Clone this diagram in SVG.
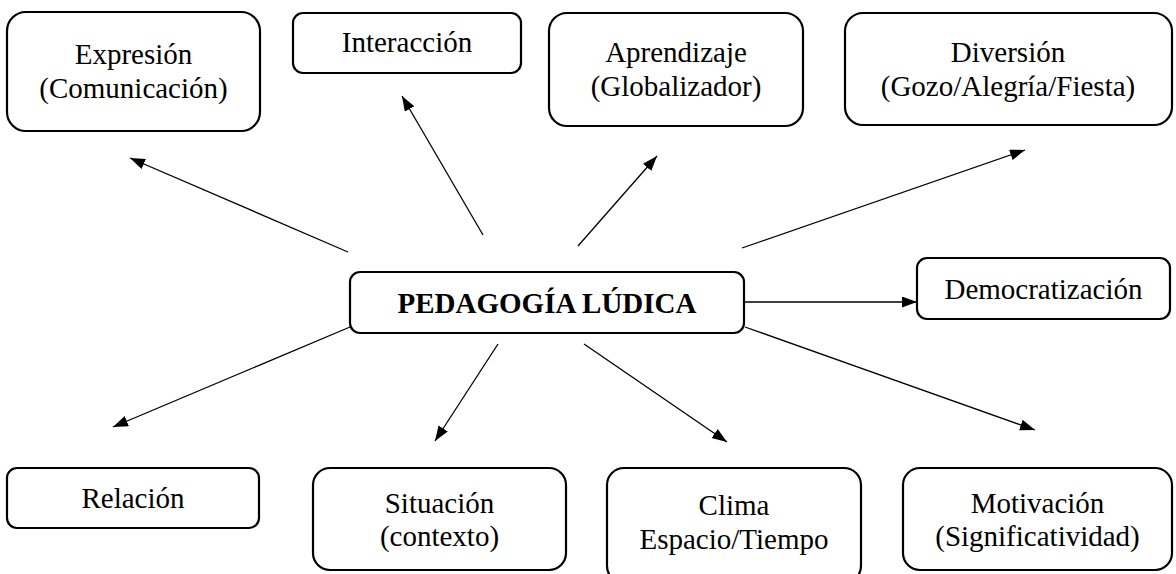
<svg xmlns="http://www.w3.org/2000/svg" width="1176" height="574" viewBox="0 0 1176 574">
<style>
.box{fill:#fff;stroke:#000;stroke-width:2.2}
text{font-family:'Liberation Serif','Times New Roman',Tinos,'DejaVu Serif',serif;font-size:29px;fill:#000;text-anchor:middle}
.b{font-weight:bold}
.c{stroke:#000;stroke-width:1.3;fill:none;marker-end:url(#ah)}
</style>
<defs>
<marker id="ah" markerUnits="userSpaceOnUse" markerWidth="16" markerHeight="12" refX="15" refY="5.5" orient="auto">
<path d="M0,0 L15,5.5 L0,11 z" fill="#000"/>
</marker>
</defs>
<rect width="1176" height="574" fill="#fff"/>
<g id="connectors">
<line class="c" x1="348" y1="252" x2="130" y2="158"/>
<line class="c" x1="483" y1="235" x2="402" y2="96"/>
<line class="c" x1="578" y1="246" x2="657" y2="156"/>
<line class="c" x1="742" y1="248" x2="1025" y2="150"/>
<line class="c" x1="744" y1="302" x2="917" y2="302"/>
<line class="c" x1="745" y1="327" x2="1035" y2="430"/>
<line class="c" x1="584" y1="344" x2="727" y2="442"/>
<line class="c" x1="498" y1="344" x2="435" y2="441"/>
<line class="c" x1="350" y1="327" x2="113" y2="427"/>
</g>
<g id="expresion">
<rect class="box" x="7" y="12" width="253" height="119" rx="19"/>
<text x="133.5" y="64" font-family="Liberation Serif, Times New Roman, serif">Expresión</text>
<text x="133.5" y="98" font-family="Liberation Serif, Times New Roman, serif">(Comunicación)</text>
</g>
<g id="interaccion">
<rect class="box" x="293" y="13" width="228" height="60" rx="10"/>
<text x="407" y="52" font-family="Liberation Serif, Times New Roman, serif">Interacción</text>
</g>
<g id="aprendizaje">
<rect class="box" x="549" y="13" width="254" height="113" rx="18"/>
<text x="676" y="62" font-family="Liberation Serif, Times New Roman, serif">Aprendizaje</text>
<text x="676" y="96" font-family="Liberation Serif, Times New Roman, serif">(Globalizador)</text>
</g>
<g id="diversion">
<rect class="box" x="845" y="13" width="327" height="112" rx="18"/>
<text x="1008" y="62" font-family="Liberation Serif, Times New Roman, serif">Diversión</text>
<text x="1008" y="96" font-family="Liberation Serif, Times New Roman, serif">(Gozo/Alegría/Fiesta)</text>
</g>
<g id="pedagogia">
<rect class="box" x="350" y="272" width="394" height="61" rx="10"/>
<text class="b" x="547" y="313" font-family="Liberation Serif, Times New Roman, serif" font-weight="bold">PEDAGOGÍA LÚDICA</text>
</g>
<g id="democratizacion">
<rect class="box" x="917" y="258" width="253" height="61" rx="10"/>
<text x="1043.5" y="299" font-family="Liberation Serif, Times New Roman, serif">Democratización</text>
</g>
<g id="relacion">
<rect class="box" x="7" y="468" width="252" height="60" rx="10"/>
<text x="133" y="508" font-family="Liberation Serif, Times New Roman, serif">Relación</text>
</g>
<g id="situacion">
<rect class="box" x="313" y="468" width="253" height="102" rx="17"/>
<text x="439.5" y="513" font-family="Liberation Serif, Times New Roman, serif">Situación</text>
<text x="439.5" y="546" font-family="Liberation Serif, Times New Roman, serif">(contexto)</text>
</g>
<g id="clima">
<rect class="box" x="607" y="468" width="254" height="115" rx="17"/>
<text x="734" y="515" font-family="Liberation Serif, Times New Roman, serif">Clima</text>
<text x="734" y="549" font-family="Liberation Serif, Times New Roman, serif">Espacio/Tiempo</text>
</g>
<g id="motivacion">
<rect class="box" x="903" y="468" width="269" height="102" rx="17"/>
<text x="1037.5" y="513" font-family="Liberation Serif, Times New Roman, serif">Motivación</text>
<text x="1037.5" y="546" font-family="Liberation Serif, Times New Roman, serif">(Significatividad)</text>
</g>
</svg>
